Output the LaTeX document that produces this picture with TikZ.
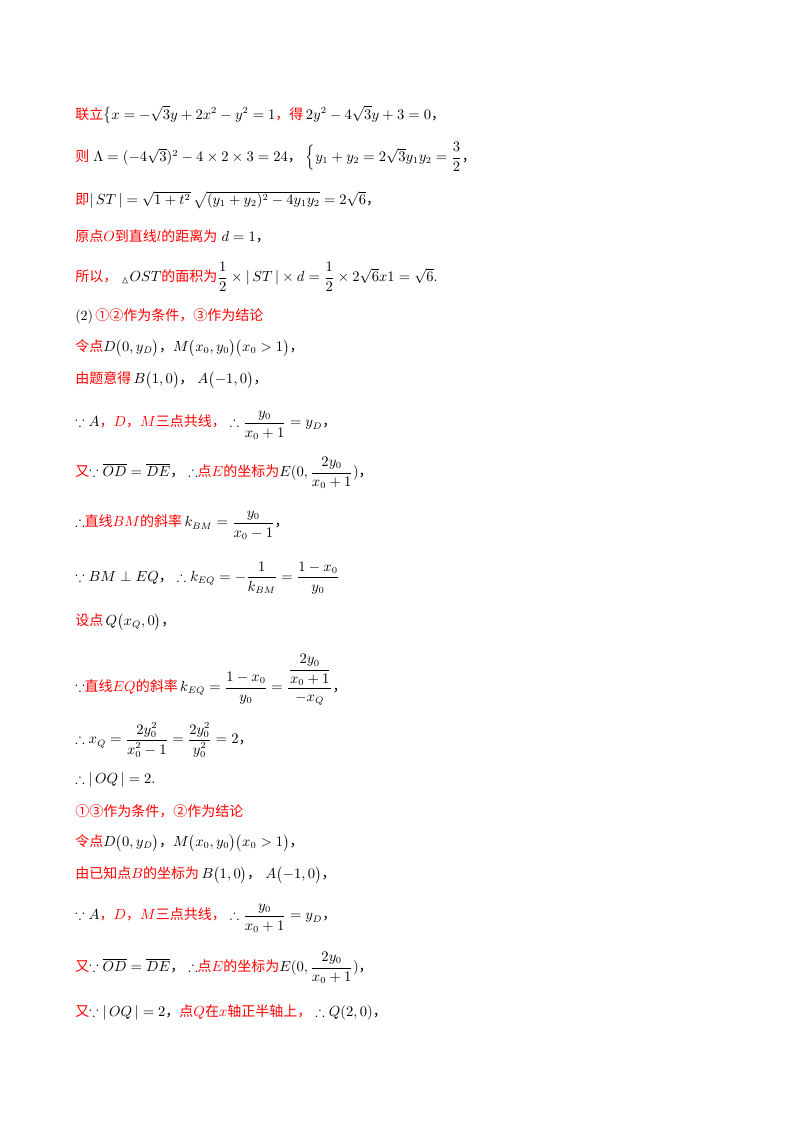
\documentclass[tikz,border=0pt]{standalone}
\usepackage{amsmath,amssymb}
\usepackage{fontspec}
\newfontfamily\cjk{Noto Sans CJK SC}
\newcommand{\zh}[1]{{\color{red}\cjk #1}}
\newcommand{\zk}[1]{{\cjk #1}}
\begin{document}
\begin{tikzpicture}[x=0.75pt,y=-0.75pt,
  ln/.style={anchor=west,inner sep=0pt,font=\fontsize{10.5}{12}\selectfont}]
\useasboundingbox (0,0) rectangle (800,1132);
\node[ln] (l1) at (75,115) {\zh{联立}$\bigl\{x=-\sqrt{3}y+2x^2-y^2=1$\zh{，得}$\,2y^2-4\sqrt{3}y+3=0$\zk{，}};
\node[ln] (l2) at (75,157) {\zh{则}$\;\Lambda=(-4\sqrt{3})^2-4\times2\times3=24$\zk{，}$\;\Bigl\{y_1+y_2=2\sqrt{3}y_1y_2=\dfrac{3}{2}$\zk{，}};
\node[ln] (l3) at (75,200) {\zh{即}$|\,ST\,|=\sqrt{1+t^2}\,\sqrt{(y_1+y_2)^2-4y_1y_2}=2\sqrt{6}$\zk{，}};
\node[ln] (l4) at (75,236) {\zh{原点}{\color{red}$O$}\zh{到直线}{\color{red}$l$}\zh{的距离为}$\;d=1$\zk{，}};
\node[ln] (l5) at (75,277) {\zh{所以，}$\;_{\vartriangle}OST$\zh{的面积为}$\dfrac{1}{2}\times|\,ST\,|\times d=\dfrac{1}{2}\times2\sqrt{6}x1=\sqrt{6}.$};
\node[ln] (l6) at (75,316) {(2)\,\zh{①②作为条件，③作为结论}};
\node[ln] (l7) at (75,348) {\zh{令点}$D\bigl(0,y_D\bigr)$\zk{，}$M\bigl(x_0,y_0\bigr)\bigl(x_0>1\bigr)$\zk{，}};
\node[ln] (l8) at (75,380) {\zh{由题意得}$\,B\bigl(1,0\bigr)$\zk{，}$\;A\bigl(-1,0\bigr)$\zk{，}};
\node[ln] (l9) at (75,425) {$\because A$\zh{，}{\color{red}$D$}\zh{，}{\color{red}$M$}\zh{三点共线，}$\;\therefore\dfrac{y_0}{x_0+1}=y_D$\zk{，}};
\node[ln] (l10) at (75,473) {\zh{又}$\because\overline{OD}=\overline{DE}$\zk{，}$\;\therefore$\zh{点}{\color{red}$E$}\zh{的坐标为}$E(0,\dfrac{2y_0}{x_0+1})$\zk{，}};
\node[ln] (l11) at (75,525) {$\therefore$\zh{直线}{\color{red}$BM$}\zh{的斜率}$\,k_{BM}=\dfrac{y_0}{x_0-1}$\zk{，}};
\node[ln] (l12) at (75,578) {$\because BM\perp EQ$\zk{，}$\;\therefore k_{EQ}=-\dfrac{1}{k_{BM}}=\dfrac{1-x_0}{y_0}$};
\node[ln] (l13) at (75,622) {\zh{设点}$\,Q\bigl(x_Q,0\bigr)$\zk{，}};
\node[ln] (l14) at (75,680) {$\because$\zh{直线}{\color{red}$EQ$}\zh{的斜率}$\,k_{EQ}=\dfrac{1-x_0}{y_0}=\dfrac{\dfrac{2y_0}{x_0+1}}{-x_Q}$\zk{，}};
\node[ln] (l15) at (75,740) {$\therefore x_Q=\dfrac{2y_0^2}{x_0^2-1}=\dfrac{2y_0^2}{y_0^2}=2$\zk{，}};
\node[ln] (l16) at (75,780) {$\therefore|\,OQ\,|=2.$};
\node[ln] (l17) at (75,811) {\zh{①③作为条件，②作为结论}};
\node[ln] (l18) at (75,843) {\zh{令点}$D\bigl(0,y_D\bigr)$\zk{，}$M\bigl(x_0,y_0\bigr)\bigl(x_0>1\bigr)$\zk{，}};
\node[ln] (l19) at (75,875) {\zh{由已知点}{\color{red}$B$}\zh{的坐标为}$\,B\bigl(1,0\bigr)$\zk{，}$\;A\bigl(-1,0\bigr)$\zk{，}};
\node[ln] (l20) at (75,918) {$\because A$\zh{，}{\color{red}$D$}\zh{，}{\color{red}$M$}\zh{三点共线，}$\;\therefore\dfrac{y_0}{x_0+1}=y_D$\zk{，}};
\node[ln] (l21) at (75,968) {\zh{又}$\because\overline{OD}=\overline{DE}$\zk{，}$\;\therefore$\zh{点}{\color{red}$E$}\zh{的坐标为}$E(0,\dfrac{2y_0}{x_0+1})$\zk{，}};
\node[ln] (l22) at (75,1012) {\zh{又}$\because|\,OQ\,|=2$\zk{，}\zh{点}{\color{red}$Q$}\zh{在}{\color{red}$x$}\zh{轴正半轴上，}$\;\therefore Q(2,0)$\zk{，}};
\end{tikzpicture}
\end{document}
